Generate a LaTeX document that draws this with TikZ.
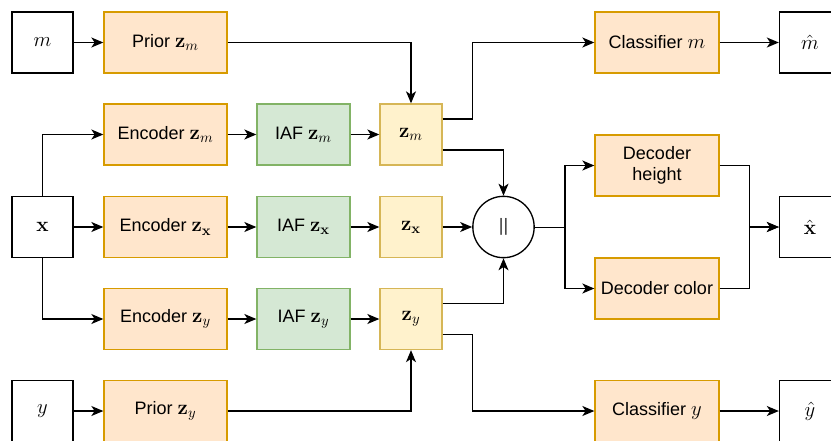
\documentclass[tikz,border=0pt]{standalone}
\usepackage{fix-cm}
\usepackage{amsmath,amssymb}
\usepackage[no-math]{fontspec}
\setmainfont{Liberation Sans}
\usetikzlibrary{arrows.meta,calc}

\definecolor{orfill}{HTML}{FFE6CC}
\definecolor{ordraw}{HTML}{D79B00}
\definecolor{grfill}{HTML}{D5E8D4}
\definecolor{grdraw}{HTML}{82B366}
\definecolor{yefill}{HTML}{FFF2CC}
\definecolor{yedraw}{HTML}{D6B656}

% math is set a bit larger than the labels round it
\newcommand{\mth}[1]{{\fontsize{15.5}{18}\selectfont$#1$}}

\begin{document}
\begin{tikzpicture}[x=0.75pt,y=-0.75pt,
  every node/.style={font=\fontsize{13.5}{16}\selectfont, inner sep=0pt, line width=1pt, align=center},
  var/.style={draw=black, fill=white, minimum width=45.75pt, minimum height=45.75pt},
  net/.style={draw=ordraw, fill=orfill, minimum width=92.25pt, minimum height=45.75pt},
  iaf/.style={draw=grdraw, fill=grfill, minimum width=69.75pt, minimum height=45.75pt},
  lat/.style={draw=yedraw, fill=yefill, minimum width=46.5pt, minimum height=45.75pt},
  head/.style={draw=ordraw, fill=orfill, minimum width=93pt, minimum height=45.75pt},
  link/.style={draw=black, line width=1pt, -{Stealth[length=9pt,width=7.5pt,inset=2.5pt]}}]
\useasboundingbox (0,0) rectangle (831,440);

% inputs
\node[var] (m) at (42.5,42.5) {\mth{m}};
\node[var] (x) at (42.5,227) {\mth{\mathbf{x}}};
\node[var] (y) at (42.5,411) {\mth{y}};

% priors and encoders
\node[net] (priorm) at (165.5,42.5) {Prior \mth{\mathbf{z}_m}};
\node[net] (encm) at (165.5,134.5) {Encoder \mth{\mathbf{z}_m}};
\node[net] (encx) at (165.5,227) {Encoder \mth{\mathbf{z}_{\mathbf{x}}}};
\node[net] (ency) at (165.5,319) {Encoder \mth{\mathbf{z}_y}};
\node[net] (priory) at (165.5,411) {Prior \mth{\mathbf{z}_y}};

% flows
\node[iaf] (iafm) at (303.5,134.5) {IAF \mth{\mathbf{z}_m}};
\node[iaf] (iafx) at (303.5,227) {IAF \mth{\mathbf{z}_{\mathbf{x}}}};
\node[iaf] (iafy) at (303.5,319) {IAF \mth{\mathbf{z}_y}};

% latents
\node[lat] (zm) at (411,134.5) {\mth{\mathbf{z}_m}};
\node[lat] (zx) at (411,227) {\mth{\mathbf{z}_{\mathbf{x}}}};
\node[lat] (zy) at (411,319) {\mth{\mathbf{z}_y}};

% concatenation
\node[circle, draw=black, fill=white, minimum size=46pt, text=black!80] (cat) at (503.5,227) {||};

% heads
\node[head] (clsm) at (657,42.5) {Classifier \mth{m}};
\node[head] (dech) at (657,165.5) {Decoder\\height};
\node[head] (decc) at (657,288.5) {Decoder color};
\node[head] (clsy) at (657,411) {Classifier \mth{y}};

% outputs
\node[var] (mhat) at (810,42.5) {\mth{\hat{m}}};
\node[var] (xhat) at (810,227) {\mth{\hat{\mathbf{x}}}};
\node[var] (yhat) at (810,411) {\mth{\hat{y}}};

\draw[link] (m) -- (priorm);
\draw[link] (y) -- (priory);
\draw[link] (x.north) |- (encm.west);
\draw[link] (x) -- (encx);
\draw[link] (x.south) |- (ency.west);

\draw[link] (encm) -- (iafm);
\draw[link] (encx) -- (iafx);
\draw[link] (ency) -- (iafy);
\draw[link] (iafm) -- (zm);
\draw[link] (iafx) -- (zx);
\draw[link] (iafy) -- (zy);

\draw[link] (priorm.east) -| (zm.north);
\draw[link] (priory.east) -| (zy.south);

\draw[link] ([yshift=11.6pt]zm.east) -- ++(30,0) |- (clsm.west);
\draw[link] ([yshift=-11.6pt]zm.east) -| (cat.north);
\draw[link] (zx) -- (cat);
\draw[link] ([yshift=11.6pt]zy.east) -| (cat.south);
\draw[link] ([yshift=-11.6pt]zy.east) -- ++(30,0) |- (clsy.west);

\draw (cat.east) -- ++(30,0) coordinate (split);
\draw[link] (split) |- (dech.west);
\draw[link] (split) |- (decc.west);
\draw[link] (dech.east) -- ++(30,0) |- (xhat.west);
\draw[link] (decc.east) -- ++(30,0) |- (xhat.west);

\draw[link] (clsm) -- (mhat);
\draw[link] (clsy) -- (yhat);
\end{tikzpicture}
\end{document}
